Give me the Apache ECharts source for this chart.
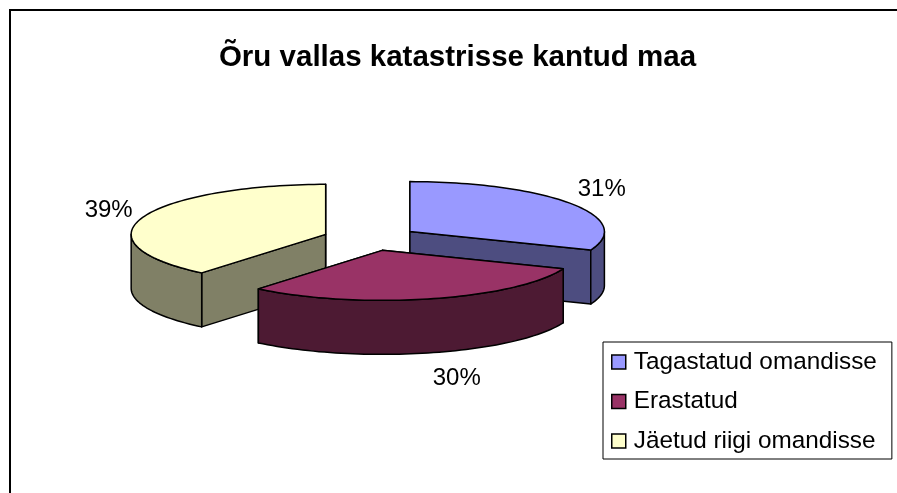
<!DOCTYPE html>
<html>
<head>
<meta charset="utf-8">
<title>Õru vallas katastrisse kantud maa</title>
<script src="https://cdn.jsdelivr.net/npm/echarts@6/dist/echarts.min.js"></script>
<style>
    html, body { margin: 0; padding: 0; background: #fff; }
    #chart-box { width: 897px; height: 493px; }
</style>
</head>
<body>
<div id="chart-box"></div>
<script>
// data
var categories = ['Tagastatud omandisse', 'Erastatud', 'Jäetud riigi omandisse'];
var shares = [31, 30, 39];

var topColors = ['#9999ff', '#993366', '#ffffcc'];
var sideColors = ['#4d4d80', '#4d1a33', '#808066'];

// 3d pie layout
var centerX = 370.5, centerY = 238.5;
var radiusX = 194.5, radiusY = 50, depth = 54;
var explode = 0.245;
var labelOffsets = [[31, -14], [26, 26], [-34, -7]];
var font = '"Liberation Sans", Arial, sans-serif';

var total = shares.reduce(function(a, b) { return a + b; }, 0);

// angles are clockwise from the top of the ellipse
function ellipsePoint(cx, cy, angle, dy) {
    return [cx + radiusX * Math.sin(angle), cy - radiusY * Math.cos(angle) + (dy || 0)];
}

function arcPoints(cx, cy, from, to, dy) {
    var pts = [];
    var steps = Math.max(2, Math.ceil(Math.abs(to - from) / 0.03));
    for (var i = 0; i <= steps; i++) {
        pts.push(ellipsePoint(cx, cy, from + (to - from) * i / steps, dy));
    }
    return pts;
}

function makeRenderItem(index) {
    return function(params, api) {
        var before = 0;
        for (var i = 0; i < index; i++) before += shares[i];
        var start = before / total * 2 * Math.PI;
        var end = start + api.value(0) / total * 2 * Math.PI;
        var mid = (start + end) / 2;

        var cx = centerX + explode * radiusX * Math.sin(mid);
        var cy = centerY - explode * radiusY * Math.cos(mid);
        var lineStyle = { stroke: '#000', lineWidth: 1.5, lineJoin: 'round' };

        function face(points, fill) {
            return {
                type: 'polygon',
                shape: { points: points },
                style: { fill: fill, stroke: lineStyle.stroke, lineWidth: lineStyle.lineWidth, lineJoin: lineStyle.lineJoin }
            };
        }

        var children = [];
        // radial walls
        [start, end].forEach(function(a) {
            var p = ellipsePoint(cx, cy, a);
            children.push(face([[cx, cy], p, [p[0], p[1] + depth], [cx, cy + depth]], sideColors[index]));
        });
        // outer wall, only the part facing the viewer
        var frontFrom = Math.max(start, Math.PI / 2);
        var frontTo = Math.min(end, Math.PI * 3 / 2);
        if (frontTo > frontFrom) {
            var upper = arcPoints(cx, cy, frontFrom, frontTo);
            var lower = arcPoints(cx, cy, frontFrom, frontTo, depth).reverse();
            children.push(face(upper.concat(lower), sideColors[index]));
        }
        // top face
        children.push(face([[cx, cy]].concat(arcPoints(cx, cy, start, end)), topColors[index]));

        // percent label
        var anchor = ellipsePoint(cx, cy, mid, (mid > Math.PI / 2 && mid < Math.PI * 3 / 2) ? depth : 0);
        children.push({
            type: 'text',
            style: {
                text: api.value(0) + '%',
                x: anchor[0] + labelOffsets[index][0],
                y: anchor[1] + labelOffsets[index][1],
                align: 'center',
                verticalAlign: 'middle',
                fill: '#000',
                font: '24px ' + font
            }
        });
        return { type: 'group', children: children };
    };
}

var pieChart = echarts.init(document.getElementById('chart-box'));

var pieOption = {
    animation: false,
    backgroundColor: '#fff',
    title: {
        text: 'Õru vallas katastrisse kantud maa',
        left: 452.5,
        top: 38,
        textAlign: 'center',
        textStyle: {
            color: '#000',
            fontFamily: font,
            fontWeight: 'bold',
            fontSize: 29.5
        }
    },
    legend: {
        orient: 'vertical',
        left: 603,
        top: 342,
        padding: [8, 15, 6, 8],
        backgroundColor: '#fff',
        borderColor: '#000',
        borderWidth: 1,
        icon: 'rect',
        itemWidth: 14,
        itemHeight: 14,
        itemGap: 15.5,
        itemStyle: {
            borderColor: '#000',
            borderWidth: 1.5
        },
        selectedMode: false,
        data: categories,
        textStyle: {
            color: '#000',
            fontFamily: font,
            fontSize: 24.3,
            padding: [0, 0, 0, 3]
        }
    },
    // only the left and top edge of the frame are in the picture
    graphic: [{
        type: 'polyline',
        shape: { points: [[10, 493], [10, 10], [897, 10]] },
        style: { fill: 'none', stroke: '#000', lineWidth: 2 },
        silent: true
    }],
    series: categories.map(function(name, i) {
        return {
            name: name,
            type: 'custom',
            coordinateSystem: 'none',
            // the middle slice sits in front of the other two
            z: i === 1 ? 4 : 2,
            silent: true,
            itemStyle: { color: topColors[i] },
            renderItem: makeRenderItem(i),
            data: [[shares[i]]]
        };
    })
};

pieChart.setOption(pieOption);
</script>
</body>
</html>
